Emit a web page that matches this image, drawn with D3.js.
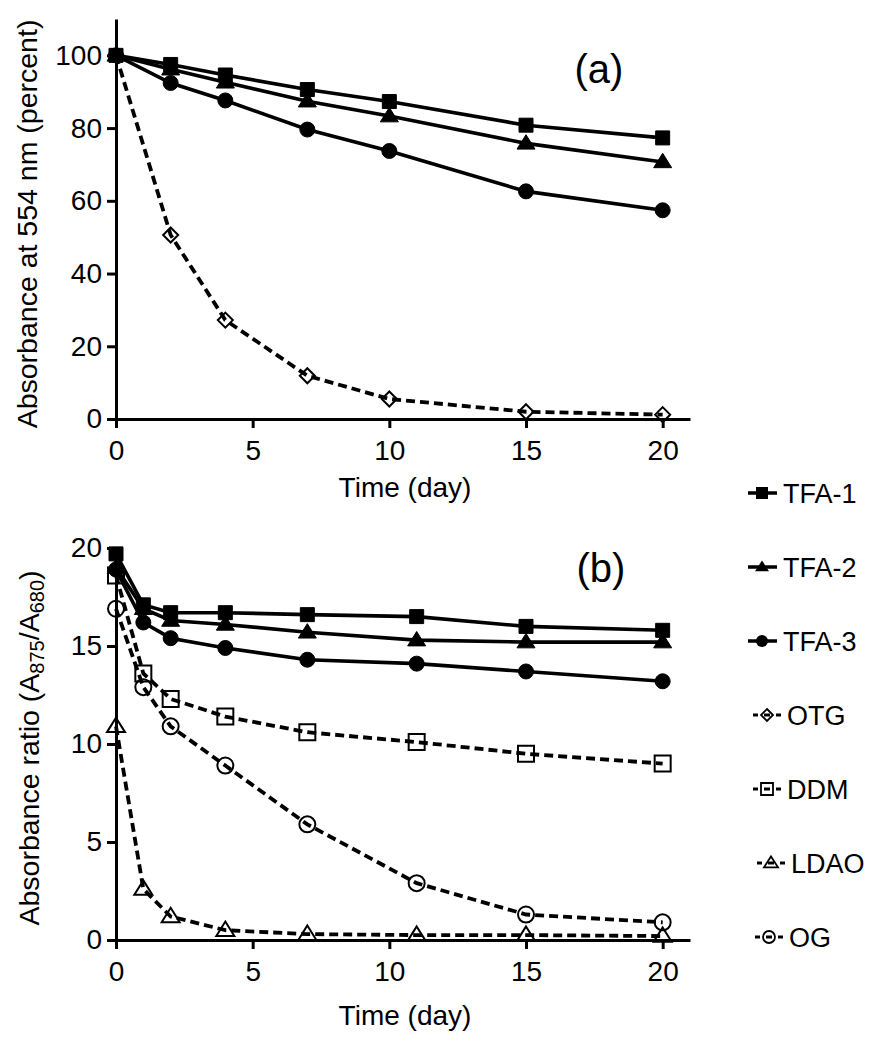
<!DOCTYPE html>
<html>
<head>
<meta charset="utf-8">
<script src="https://cdn.jsdelivr.net/npm/d3@7"></script>
<style>
  html, body { margin: 0; padding: 0; background: #fff; }
  svg text { font-family: "Liberation Sans", Arial, Helvetica, sans-serif; fill: #000; }
</style>
</head>
<body>
<svg id="chart" width="874" height="1050"></svg>
<script>
// ---------- data ----------
const daysA = [0, 2, 4, 7, 10, 15, 20];
const tfa1A = [100, 97.5, 94.6, 90.6, 87.3, 80.8, 77.3];
const tfa2A = [100, 96.2, 92.6, 87.4, 83.3, 75.8, 70.7];
const tfa3A = [100, 92.4, 87.6, 79.6, 73.7, 62.6, 57.4];
const otgA  = [100, 50.6, 27.2, 11.9, 5.5, 2.0, 1.2];

const daysB = [0, 1, 2, 4, 7, 11, 15, 20];
const tfa1B = [19.7, 17.1, 16.7, 16.7, 16.6, 16.5, 16.0, 15.8];
const tfa2B = [19.0, 16.9, 16.3, 16.1, 15.7, 15.3, 15.2, 15.2];
const tfa3B = [18.9, 16.2, 15.4, 14.9, 14.3, 14.1, 13.7, 13.2];
const ddmB  = [18.6, 13.6, 12.3, 11.4, 10.6, 10.1, 9.5, 9.0];
const ldaoB = [10.9, 2.6, 1.2, 0.5, 0.3, 0.25, 0.25, 0.2];
const ogB   = [16.9, 12.9, 10.9, 8.9, 5.9, 2.9, 1.3, 0.9];

const xTicks = [0, 5, 10, 15, 20];
const yTicksA = [0, 20, 40, 60, 80, 100];
const yTicksB = [0, 5, 10, 15, 20];

const legendNames = ["TFA-1", "TFA-2", "TFA-3", "OTG", "DDM", "LDAO", "OG"];
const legendShapes = ["square", "triangle", "circle", "diamond", "square", "triangle", "circle"];
const legendFilled = [true, true, true, false, false, false, false];

// ---------- helpers ----------
const svg = d3.select("#chart");

function markerPath(shape, s) {
  const p = d3.path();
  if (shape === "square") {
    p.rect(-s / 2, -s / 2, s, s);
  } else if (shape === "triangle") {
    const h = s * 0.9;
    p.moveTo(0, -h * 0.6); p.lineTo(s / 2 + 1, h * 0.4); p.lineTo(-s / 2 - 1, h * 0.4); p.closePath();
  } else if (shape === "circle") {
    p.arc(0, 0, s / 2, 0, 2 * Math.PI);
  } else if (shape === "diamond") {
    const r = s / 2;
    p.moveTo(0, -r); p.lineTo(r, 0); p.lineTo(0, r); p.lineTo(-r, 0); p.closePath();
  }
  return p.toString();
}

function drawSeries(g, x, y, days, vals, shape, filled, dashed, size) {
  const line = d3.line().x((d, i) => x(days[i])).y(d => y(d));
  g.append("path")
    .attr("d", line(vals))
    .attr("fill", "none")
    .attr("stroke", "#000")
    .attr("stroke-width", dashed ? 3.8 : 3.6)
    .attr("stroke-dasharray", dashed ? "9,5" : null);
  g.selectAll(null).data(vals).enter().append("path")
    .attr("transform", (d, i) => `translate(${x(days[i])},${y(d)})`)
    .attr("d", markerPath(shape, size))
    .attr("fill", filled ? "#000" : "none")
    .attr("stroke", "#000")
    .attr("stroke-width", filled ? 1 : 2);
}

function styleAxis(g) {
  g.select(".domain").attr("stroke", "#000").attr("stroke-width", 3);
  g.selectAll(".tick line").attr("stroke", "#000").attr("stroke-width", 3);
  g.selectAll(".tick text").attr("font-size", 28).attr("font-family", '"Liberation Sans", Arial, sans-serif');
}

// ---------- scales ----------
const x = d3.scaleLinear().domain([0, 21]).range([116, 690]);
const yA = d3.scaleLinear().domain([0, 110]).range([419, 19]);
const yB = d3.scaleLinear().domain([0, 20]).range([940, 548]);

// ---------- panel (a) ----------
const gA = svg.append("g");
const axA_x = gA.append("g").attr("transform", `translate(0,${yA(0)})`)
  .call(d3.axisBottom(x).tickValues(xTicks).tickSize(9).tickSizeOuter(0).tickPadding(12));
styleAxis(axA_x);
const axA_y = gA.append("g").attr("transform", `translate(${x(0)},0)`)
  .call(d3.axisLeft(yA).tickValues(yTicksA).tickSize(9).tickSizeOuter(0).tickPadding(5));
styleAxis(axA_y);

drawSeries(gA, x, yA, daysA, otgA, "diamond", false, true, 15);
drawSeries(gA, x, yA, daysA, tfa3A, "circle", true, false, 15);
drawSeries(gA, x, yA, daysA, tfa2A, "triangle", true, false, 16);
drawSeries(gA, x, yA, daysA, tfa1A, "square", true, false, 14);

gA.append("text").attr("x", 405).attr("y", 497).attr("text-anchor", "middle")
  .attr("font-size", 28).text("Time (day)");
gA.append("text").attr("transform", "translate(37,224) rotate(-90)").attr("text-anchor", "middle")
  .attr("font-size", 28.5).text("Absorbance at 554 nm (percent)");
gA.append("text").attr("x", 599).attr("y", 83).attr("text-anchor", "middle")
  .attr("font-size", 40).text("(a)");

// ---------- panel (b) ----------
const gB = svg.append("g");
const axB_x = gB.append("g").attr("transform", `translate(0,${yB(0)})`)
  .call(d3.axisBottom(x).tickValues(xTicks).tickSize(9).tickSizeOuter(0).tickPadding(12));
styleAxis(axB_x);
const axB_y = gB.append("g").attr("transform", `translate(${x(0)},0)`)
  .call(d3.axisLeft(yB).tickValues(yTicksB).tickSize(9).tickSizeOuter(0).tickPadding(5));
styleAxis(axB_y);

drawSeries(gB, x, yB, daysB, ldaoB, "triangle", false, true, 16);
drawSeries(gB, x, yB, daysB, ogB, "circle", false, true, 16);
drawSeries(gB, x, yB, daysB, ddmB, "square", false, true, 16);
drawSeries(gB, x, yB, daysB, tfa3B, "circle", true, false, 15);
drawSeries(gB, x, yB, daysB, tfa2B, "triangle", true, false, 16);
drawSeries(gB, x, yB, daysB, tfa1B, "square", true, false, 14);

gB.append("text").attr("x", 405).attr("y", 1025).attr("text-anchor", "middle")
  .attr("font-size", 28).text("Time (day)");
const lblB = gB.append("text").attr("transform", "translate(39,748) rotate(-90)").attr("text-anchor", "middle")
  .attr("font-size", 28.5);
lblB.append("tspan").text("Absorbance ratio (A");
lblB.append("tspan").attr("font-size", 20).attr("dy", 5).text("875");
lblB.append("tspan").attr("dy", -5).text("/A");
lblB.append("tspan").attr("font-size", 20).attr("dy", 5).text("680");
lblB.append("tspan").attr("dy", -5).text(")");
gB.append("text").attr("x", 601).attr("y", 582).attr("text-anchor", "middle")
  .attr("font-size", 40).text("(b)");

// ---------- legend ----------
const leg = svg.append("g");
legendNames.forEach((name, i) => {
  const cy = 493 + i * 74;
  const g = leg.append("g");
  if (legendFilled[i]) {
    g.append("line").attr("x1", 748).attr("x2", 777).attr("y1", cy).attr("y2", cy)
      .attr("stroke", "#000").attr("stroke-width", 3.5);
    g.append("path").attr("transform", `translate(762,${cy})`)
      .attr("d", markerPath(legendShapes[i], 12)).attr("fill", "#000");
    g.append("text").attr("x", 783).attr("y", cy + 10).attr("font-size", 27).text(name);
  } else {
    const off = name === "LDAO" ? 4 : (name === "OG" ? 2 : 0);
    const cx = 767 + off;
    g.append("line").attr("x1", cx - 14).attr("x2", cx - 9).attr("y1", cy).attr("y2", cy)
      .attr("stroke", "#000").attr("stroke-width", 3);
    g.append("line").attr("x1", cx + 9).attr("x2", cx + 14).attr("y1", cy).attr("y2", cy)
      .attr("stroke", "#000").attr("stroke-width", 3);
    g.append("line").attr("x1", cx - 3).attr("x2", cx + 3).attr("y1", cy).attr("y2", cy)
      .attr("stroke", "#000").attr("stroke-width", 3);
    g.append("path").attr("transform", `translate(${cx},${cy})`)
      .attr("d", markerPath(legendShapes[i], 12)).attr("fill", "none")
      .attr("stroke", "#000").attr("stroke-width", 1.8);
    g.append("text").attr("x", cx + 20).attr("y", cy + 10).attr("font-size", 27).text(name);
  }
});
</script>
</body>
</html>
